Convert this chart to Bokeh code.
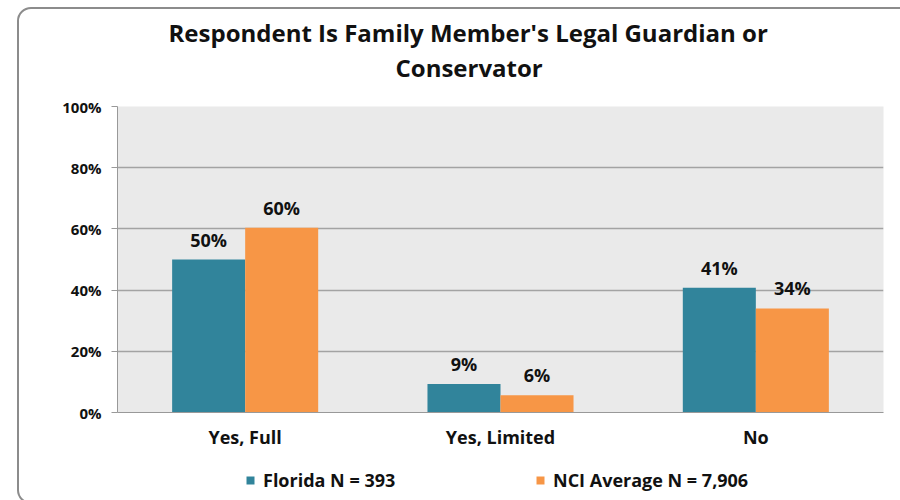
from bokeh.plotting import figure
from bokeh.layouts import column
from bokeh.models import (FactorRange, Legend, LegendItem, Title, PrintfTickFormatter,
                          ColumnDataSource, FixedTicker, InlineStyleSheet)
from bokeh.transform import dodge
from bokeh.core.properties import value
from bokeh.embed import file_html
from bokeh.resources import INLINE

categories = ["Yes, Full", "Yes, Limited", "No"]
florida = [50.0, 9.3, 40.8]
nci = [60.4, 5.6, 34.0]
florida_labels = ["50%", "9%", "41%"]
nci_labels = ["60%", "6%", "34%"]
series_names = ["Florida N = 393", "NCI Average N = 7,906"]
title_lines = ["Respondent Is Family Member's Legal Guardian or", "Conservator"]
y_ticks = [0, 20, 40, 60, 80, 100]

TEAL = "#31849B"
ORANGE = "#F79646"
FONT = "Open Sans"
INK = "#111111"

src = ColumnDataSource(dict(cat=categories, fl=florida, nci=nci,
                            fl_lab=florida_labels, nci_lab=nci_labels))

p = figure(x_range=FactorRange(*categories), y_range=(0, 100),
           frame_width=766, frame_height=306, output_backend="svg", toolbar_location=None,
           min_border_left=117, min_border_right=1, min_border_top=106, min_border_bottom=40)
p.background_fill_color = "#EAEAEA"
p.border_fill_color = "white"
p.outline_line_color = None

bw = 0.286
p.vbar(x=dodge("cat", -bw / 2, range=p.x_range), top="fl", width=bw, source=src,
       fill_color=TEAL, line_color=None)
p.vbar(x=dodge("cat", bw / 2, range=p.x_range), top="nci", width=bw, source=src,
       fill_color=ORANGE, line_color=None)

for xoff, ycol, tcol in ((-bw / 2, "fl", "fl_lab"), (bw / 2, "nci", "nci_lab")):
    p.text(x=dodge("cat", xoff, range=p.x_range), y=ycol, text=tcol, source=src,
           text_align="center", text_baseline="bottom", y_offset=-8,
           text_font=value(FONT), text_font_style="bold", text_font_size="18px",
           text_color=INK)

p.xgrid.grid_line_color = None
p.ygrid.grid_line_color = "#A3A3A3"
p.ygrid.grid_line_width = 1.5
p.ygrid.ticker = FixedTicker(ticks=y_ticks)

p.yaxis.ticker = FixedTicker(ticks=y_ticks)
p.yaxis.formatter = PrintfTickFormatter(format="%d%%")
p.yaxis.axis_line_color = "#999999"
p.yaxis.major_tick_line_color = "#999999"
p.yaxis.major_tick_out = 6
p.yaxis.major_tick_in = 0
p.yaxis.minor_tick_line_color = None
p.yaxis.major_label_text_font = FONT
p.yaxis.major_label_text_font_style = "bold"
p.yaxis.major_label_text_font_size = "15px"
p.yaxis.major_label_text_color = INK
p.yaxis.major_label_standoff = 10

p.xaxis.axis_line_color = "#999999"
p.xaxis.major_tick_line_color = None
p.xaxis.major_tick_out = 0
p.xaxis.major_tick_in = 0
p.xaxis.major_label_text_font = FONT
p.xaxis.major_label_text_font_style = "bold"
p.xaxis.major_label_text_font_size = "18px"
p.xaxis.major_label_text_color = INK
p.xaxis.major_label_standoff = 12

# title: an invisible spacer next to the frame, then line 2, then line 1
p.add_layout(Title(text=" ", text_font_size="8px", standoff=12), "above")
p.add_layout(Title(text=title_lines[1], align="left", offset=278, standoff=0,
                   text_font=FONT, text_font_style="bold", text_font_size="24px",
                   text_color=INK), "above")
p.add_layout(Title(text=title_lines[0], align="left", offset=51, standoff=0,
                   text_font=FONT, text_font_style="bold", text_font_size="24px",
                   text_color=INK), "above")

# legend strip below the chart (its bars lie outside its visible range; only the
# legend swatches show)
lg = figure(width=884, height=48, x_range=FactorRange(*categories), y_range=(1000, 1001),
            output_backend="svg", toolbar_location=None,
            x_axis_location=None, y_axis_location=None,
            min_border_left=0, min_border_right=0, min_border_top=0, min_border_bottom=0)
lg.grid.visible = False
lg.outline_line_color = None
lg.background_fill_color = "white"
lg.border_fill_color = "white"
sw1 = lg.vbar(x="cat", top="fl", width=0.3, source=src, fill_color=TEAL, line_color=None)
sw2 = lg.vbar(x="cat", top="nci", width=0.3, source=src, fill_color=ORANGE, line_color=None)
legend = Legend(items=[LegendItem(label=series_names[0], renderers=[sw1]),
                       LegendItem(label=series_names[1], renderers=[sw2])],
                orientation="horizontal", location=(128, 8), spacing=0, label_width=272,
                glyph_width=10, glyph_height=10, label_standoff=8,
                label_text_font=FONT, label_text_font_style="bold",
                label_text_font_size="18px", label_text_color=INK,
                border_line_color=None, background_fill_alpha=0, padding=0, margin=0)
lg.add_layout(legend)

layout = column(p, lg, spacing=0)

# rounded chart-area border, drawn over the page like the original's frame
layout.stylesheets = [InlineStyleSheet(css="""
:host { position: relative; }
:host::after {
  content: ""; position: absolute; left: 17px; top: 7px; width: 1300px; height: 493px;
  border: 2px solid #8c8c8c; border-radius: 14px; pointer-events: none; z-index: 10;
}
""")]

open("out.html", "w").write(file_html(layout, INLINE))
